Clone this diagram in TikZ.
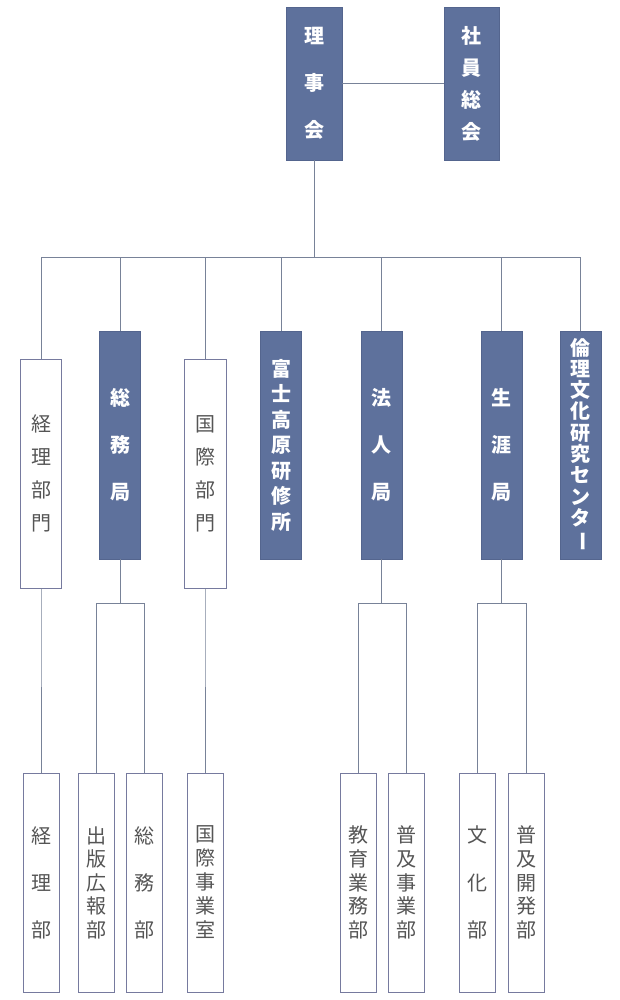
\documentclass[tikz,border=0pt]{standalone}
\usepackage{fontspec}
\usepackage{graphicx}
\usepackage{tikz}
\newfontfamily\jp{Noto Sans CJK JP}
\tikzstyle{chart} = [x = 1pt, y = -1pt]
\definecolor{boxColor}{RGB}{94,113,156}
\definecolor{boxBorder}{RGB}{84,101,142}
\definecolor{lineColor}{RGB}{120,130,152}
\definecolor{paleBorder}{RGB}{118,122,158}
\definecolor{textGray}{RGB}{85,85,85}
\tikzstyle{blueBoxStyle} = [draw=boxBorder, fill=boxColor, text=white, inner sep=0, align=center, line width=.8pt]
\tikzstyle{whiteBoxStyle} = [draw=paleBorder, fill=white, text=textGray, inner sep=0, align=center, line width=.8pt]
\tikzstyle{lineStyle} = [draw=lineColor, line width=1pt]
\newcommand{\blueBox}[7]{\node [blueBoxStyle, minimum width=#4pt, minimum height=#5pt, font=\jp\bfseries\fontsize{20}{#6}\selectfont] (#1) at (#2,#3) {#7};}
\newcommand{\whiteBox}[7]{\node [whiteBoxStyle, minimum width=#4pt, minimum height=#5pt, font=\jp\fontsize{20}{#6}\selectfont] (#1) at (#2,#3) {#7};}
\newcommand{\longBar}{\rotatebox[origin=c]{-90}{ー}}

\begin{document}
\begin{tikzpicture}[chart]
  \useasboundingbox (0,0) rectangle (620,1000);

  \blueBox{riji}{314}{83.5}{56}{153}{47}{理\\事\\会}
  \blueBox{shain}{471.5}{83.5}{55}{153}{32}{社\\員\\総\\会}

  \whiteBox{keiriBumon}{41}{473.5}{41}{229}{33}{経\\理\\部\\門}
  \blueBox{soumuKyoku}{120}{445}{41}{228}{47}{総\\務\\局}
  \whiteBox{kokusaiBumon}{205}{473.5}{42}{229}{33}{国\\際\\部\\門}
  \blueBox{fuji}{281}{445}{41}{228}{25.5}{富\\士\\高\\原\\研\\修\\所}
  \blueBox{houjinKyoku}{381.5}{445}{41}{228}{47}{法\\人\\局}
  \blueBox{shougaiKyoku}{501.5}{445}{41}{228}{47}{生\\涯\\局}
  \blueBox{rinri}{580.5}{445}{41}{228}{21.3}{倫\\理\\文\\化\\研\\究\\セ\\ン\\タ\\\longBar}

  \whiteBox{keiriBu}{41}{882.5}{36}{219}{47}{経\\理\\部}
  \whiteBox{shuppan}{96}{882.5}{36}{219}{23.5}{出\\版\\広\\報\\部}
  \whiteBox{soumuBu}{144}{882.5}{36}{219}{47}{総\\務\\部}
  \whiteBox{kokusaiJigyou}{205}{882.5}{36}{219}{24}{国\\際\\事\\業\\室}
  \whiteBox{kyouiku}{358}{882.5}{36}{219}{23.8}{教\\育\\業\\務\\部}
  \whiteBox{fukyuJigyou}{406}{882.5}{36}{219}{23.8}{普\\及\\事\\業\\部}
  \whiteBox{bunka}{477}{882.5}{36}{219}{47.5}{文\\化\\部}
  \whiteBox{fukyuKaihatsu}{526.5}{882.5}{36}{219}{23.8}{普\\及\\開\\発\\部}

  \coordinate (bus) at (0,257);
  \coordinate (split) at (0,603);

  \draw [lineStyle] (riji.east) -- (shain.west);
  \foreach \unit in {keiriBumon,soumuKyoku,kokusaiBumon,fuji,houjinKyoku,shougaiKyoku,rinri} {
    \draw [lineStyle] (riji.south) -- (riji.south |- bus) -| (\unit.north);
  }
  \foreach \from/\to in {keiriBumon/keiriBu,soumuKyoku/shuppan,soumuKyoku/soumuBu,kokusaiBumon/kokusaiJigyou,houjinKyoku/kyouiku,houjinKyoku/fukyuJigyou,shougaiKyoku/bunka,shougaiKyoku/fukyuKaihatsu} {
    \draw [lineStyle] (\from.south) -- (\from.south |- split) -| (\to.north);
  }
\end{tikzpicture}
\end{document}
